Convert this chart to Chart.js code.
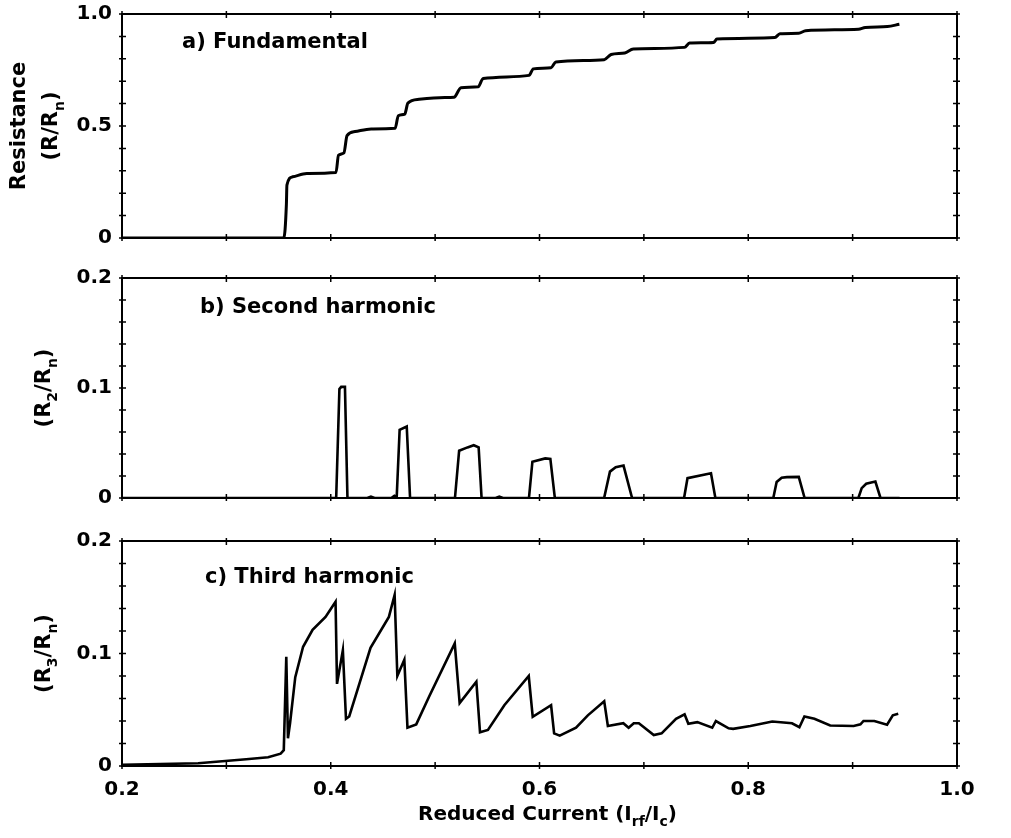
<!DOCTYPE html>
<html>
<head>
<meta charset="utf-8">
<script src="https://cdn.jsdelivr.net/npm/chart.js@4.4.1/dist/chart.umd.min.js"></script>
<style>
    body { margin: 0; background: #fff; overflow: hidden; }
    canvas.panel { position: absolute; left: 0; }
</style>
</head>
<body>
<canvas id="fundChart" class="panel" width="1011" height="271" style="top:-11px"></canvas>
<canvas id="secondChart" class="panel" width="1011" height="267" style="top:253px"></canvas>
<canvas id="thirdChart" class="panel" width="1011" height="322" style="top:516px"></canvas>
<script>
// Reduced current I_rf/I_c and resistance of each harmonic (normalised to R_n)
const fundCurrent = [0.2, 0.355, 0.3575, 0.358, 0.3635, 0.377, 0.405, 0.4074, 0.4126, 0.4156, 0.4233,
    0.4387, 0.4617, 0.4647, 0.4709, 0.4739, 0.4847, 0.5092, 0.518, 0.5248, 0.5412, 0.546, 0.59, 0.594,
    0.611, 0.6157, 0.662, 0.6686, 0.6817, 0.6899, 0.7389, 0.7438, 0.7667, 0.77, 0.8255, 0.8304, 0.8484,
    0.8549, 0.9056, 0.9121, 0.9333, 0.9448];
const fundResistance = [0, 0, 0.15, 0.236, 0.273, 0.288, 0.292, 0.369, 0.38, 0.457, 0.475,
    0.487, 0.49, 0.546, 0.553, 0.602, 0.619, 0.627, 0.628, 0.671, 0.675, 0.712, 0.726, 0.755,
    0.76, 0.786, 0.796, 0.819, 0.826, 0.844, 0.851, 0.87, 0.873, 0.888, 0.895, 0.912, 0.914,
    0.925, 0.932, 0.94, 0.944, 0.954];

const secondCurrent = [0.2, 0.39, 0.4052, 0.4083, 0.41, 0.4136, 0.416, 0.435, 0.4385, 0.442, 0.458,
    0.461, 0.4632, 0.466, 0.4728, 0.476, 0.519, 0.523, 0.531, 0.537, 0.5417, 0.5445, 0.558, 0.5615,
    0.565, 0.5899, 0.5932, 0.6055, 0.6104, 0.6147, 0.6619, 0.6675, 0.673, 0.6805, 0.6887, 0.7385,
    0.7418, 0.7643, 0.7685, 0.824, 0.8272, 0.832, 0.837, 0.8484, 0.854, 0.9055, 0.9087, 0.913,
    0.9218, 0.9267, 0.945];
const secondResistance = [0, 0, 0, 0.099, 0.101, 0.101, 0, 0, 0.0012, 0, 0,
    0.002, 0.0008, 0.062, 0.065, 0, 0, 0.043, 0.046, 0.048, 0.046, 0, 0, 0.0012,
    0, 0, 0.033, 0.036, 0.0355, 0, 0, 0.024, 0.028, 0.0295, 0, 0,
    0.018, 0.0225, 0, 0, 0.0145, 0.0185, 0.019, 0.0192, 0, 0, 0.009, 0.013,
    0.015, 0, 0];

const thirdCurrent = [0.2, 0.273, 0.319, 0.34, 0.352, 0.355, 0.3574, 0.359, 0.361, 0.366, 0.3735,
    0.3826, 0.395, 0.4046, 0.406, 0.4116, 0.4146, 0.4177, 0.4381, 0.4557, 0.4612, 0.4638, 0.4705,
    0.4735, 0.4819, 0.4944, 0.5188, 0.5235, 0.5395, 0.543, 0.5506, 0.5663, 0.5897, 0.5935, 0.6111,
    0.614, 0.6194, 0.635, 0.6463, 0.662, 0.6655, 0.6803, 0.6854, 0.6903, 0.6952, 0.7095, 0.717,
    0.7308, 0.739, 0.7426, 0.7512, 0.7655, 0.769, 0.7812, 0.7855, 0.802, 0.823, 0.8419, 0.849,
    0.8538, 0.8634, 0.8785, 0.901, 0.9075, 0.9104, 0.9208, 0.933, 0.9385, 0.9437];
const thirdResistance = [0.001, 0.0024, 0.006, 0.0077, 0.011, 0.014, 0.097, 0.0246, 0.038, 0.079, 0.106,
    0.121, 0.1325, 0.146, 0.073, 0.103, 0.042, 0.044, 0.105, 0.1325, 0.152, 0.08, 0.0945,
    0.034, 0.037, 0.062, 0.109, 0.056, 0.075, 0.03, 0.032, 0.054, 0.08, 0.0437, 0.054,
    0.029, 0.027, 0.034, 0.045, 0.0575, 0.0355, 0.038, 0.034, 0.038, 0.038, 0.0275, 0.029,
    0.042, 0.046, 0.0375, 0.039, 0.034, 0.04, 0.0335, 0.033, 0.0355, 0.0395, 0.038, 0.0345,
    0.044, 0.042, 0.036, 0.0355, 0.037, 0.04, 0.04, 0.0367, 0.045, 0.0465];

// labelled ticks
const currentTickLabels = ["0.2", "0.4", "0.6", "0.8", "1.0"];
const fundTickLabels = ["0", "0.5", "1.0"];
const harmonicTickLabels = ["0", "0.1", "0.2"];

const FONT = '"DejaVu Sans", "Liberation Sans", Arial, sans-serif';
const tickFont = { family: FONT, size: 20, weight: "bold" };

function labelFor(value, labels) {
    const hit = labels.find((l) => Math.abs(parseFloat(l) - value) < 1e-6);
    return hit === undefined ? "" : hit;
}

// text with subscripts; array entries are subscripts
function drawRich(ctx, parts, cx, cy, angle, size) {
    const mainFont = `bold ${size}px ${FONT}`;
    const subFont = `bold ${Math.round(size * 0.68)}px ${FONT}`;
    let total = 0;
    parts.forEach((p) => {
        ctx.font = Array.isArray(p) ? subFont : mainFont;
        total += ctx.measureText(Array.isArray(p) ? p[0] : p).width;
    });
    ctx.save();
    ctx.translate(cx, cy);
    ctx.rotate(angle);
    ctx.fillStyle = "#000";
    ctx.textAlign = "left";
    ctx.textBaseline = "middle";
    let x = -total / 2;
    parts.forEach((p) => {
        const sub = Array.isArray(p);
        const t = sub ? p[0] : p;
        ctx.font = sub ? subFont : mainFont;
        ctx.fillText(t, x, sub ? size * 0.38 : 0);
        x += ctx.measureText(t).width;
    });
    ctx.restore();
}

// box frame, inward ticks on all four sides, panel label and axis titles
const panelFrame = {
    id: "panelFrame",
    afterDraw(chart, args, opts) {
        const { ctx, chartArea: a } = chart;
        const { x, y } = chart.scales;
        ctx.save();
        ctx.strokeStyle = "#000";
        ctx.lineWidth = 2;
        ctx.strokeRect(a.left, a.top, a.right - a.left, a.bottom - a.top);

        ctx.lineWidth = 1.5;
        ctx.beginPath();
        x.ticks.forEach((t) => {
            const px = x.getPixelForValue(t.value);
            ctx.moveTo(px, a.top - 3);
            ctx.lineTo(px, a.top + 4);
            ctx.moveTo(px, a.bottom + 3);
            ctx.lineTo(px, a.bottom - 4);
        });
        y.ticks.forEach((t) => {
            const py = y.getPixelForValue(t.value);
            ctx.moveTo(a.left - 3, py);
            ctx.lineTo(a.left + 4, py);
            ctx.moveTo(a.right + 3, py);
            ctx.lineTo(a.right - 4, py);
        });
        ctx.stroke();

        ctx.fillStyle = "#000";
        ctx.font = `bold 21px ${FONT}`;
        ctx.textBaseline = "middle";
        ctx.textAlign = "left";
        ctx.fillText(opts.label, a.left + opts.labelDx, a.top + opts.labelDy);

        const midY = (a.top + a.bottom) / 2;
        opts.yTitles.forEach((tt) => drawRich(ctx, tt.parts, tt.x, midY, -Math.PI / 2, 21));
        if (opts.xTitle) {
            drawRich(ctx, opts.xTitle, (a.left + a.right) / 2 + 8, a.bottom + 49, 0, 20);
        }
        ctx.restore();
    },
};

function makePanel(id, cfg) {
    return new Chart(document.getElementById(id), {
        type: "line",
        data: {
            datasets: [{
                data: cfg.current.map((c, i) => ({ x: c, y: cfg.values[i] })),
                borderColor: "#000",
                borderWidth: cfg.lineWidth,
                pointRadius: 0,
                fill: false,
                tension: 0,
                cubicInterpolationMode: cfg.smooth ? "monotone" : "default",
            }],
        },
        options: {
            responsive: false,
            animation: false,
            layout: { padding: { top: 25, right: 54, left: 0, bottom: 0 } },
            plugins: {
                legend: { display: false },
                tooltip: { enabled: false },
                panelFrame: { label: cfg.label, labelDx: cfg.labelDx, labelDy: cfg.labelDy, yTitles: cfg.yTitles, xTitle: cfg.xTitle },
            },
            scales: {
                x: {
                    type: "linear",
                    min: 0.2,
                    max: 1.0,
                    grid: { display: false, drawTicks: false },
                    border: { display: false },
                    afterFit: (scale) => { scale.height = cfg.axisHeight; },
                    ticks: {
                        display: cfg.showX,
                        stepSize: 0.1,
                        autoSkip: false,
                        maxRotation: 0,
                        padding: 12,
                        color: "#000",
                        font: tickFont,
                        callback: (v) => labelFor(v, currentTickLabels),
                    },
                },
                y: {
                    type: "linear",
                    min: 0,
                    max: cfg.max,
                    grid: { display: false, drawTicks: false },
                    border: { display: false },
                    afterFit: (scale) => { scale.width = 122; },
                    ticks: {
                        stepSize: cfg.step,
                        autoSkip: false,
                        padding: 10,
                        color: "#000",
                        font: tickFont,
                        callback: (v) => labelFor(v, cfg.tickLabels),
                    },
                },
            },
        },
        plugins: [panelFrame],
    });
}

makePanel("fundChart", {
    current: fundCurrent, values: fundResistance, lineWidth: 3, smooth: true,
    max: 1.0, step: 0.1, tickLabels: fundTickLabels,
    axisHeight: 20, showX: false,
    label: "a) Fundamental", labelDx: 60, labelDy: 29,
    yTitles: [
        { parts: ["Resistance"], x: 20 },
        { parts: ["(R/R", ["n"], ")"], x: 52 },
    ],
});

makePanel("secondChart", {
    current: secondCurrent, values: secondResistance, lineWidth: 2.6, smooth: false,
    max: 0.2, step: 0.02, tickLabels: harmonicTickLabels,
    axisHeight: 19, showX: false,
    label: "b) Second harmonic", labelDx: 78, labelDy: 30,
    yTitles: [{ parts: ["(R", ["2"], "/R", ["n"], ")"], x: 45 }],
});

makePanel("thirdChart", {
    current: thirdCurrent, values: thirdResistance, lineWidth: 2.6, smooth: false,
    max: 0.2, step: 0.02, tickLabels: harmonicTickLabels,
    axisHeight: 72, showX: true,
    label: "c) Third harmonic", labelDx: 83, labelDy: 37,
    yTitles: [{ parts: ["(R", ["3"], "/R", ["n"], ")"], x: 45 }],
    xTitle: ["Reduced Current (I", ["rf"], "/I", ["c"], ")"],
});
</script>
</body>
</html>
